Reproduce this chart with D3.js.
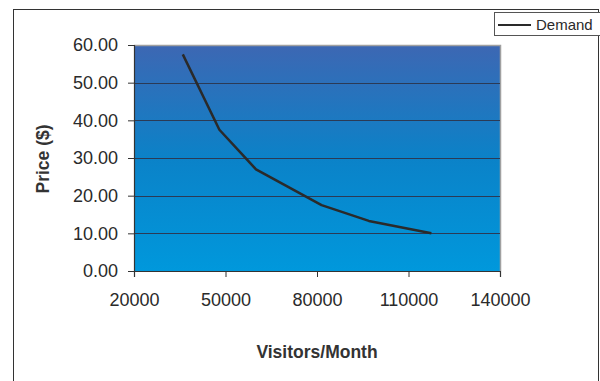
<!DOCTYPE html>
<html>
<head>
<meta charset="utf-8">
<script src="https://cdn.jsdelivr.net/npm/d3@7/dist/d3.min.js"></script>
<style>
  html, body { margin: 0; padding: 0; background: #fff; }
  svg { display: block; font-family: "Liberation Sans", Arial, sans-serif; }
</style>
</head>
<body>
<svg id="chart" width="600" height="381"></svg>
<script>
// Demand curve: price charged vs. visitors per month
const visitors = [36000, 48000, 56000, 60000, 81500, 97000, 117500];
const prices   = [57.5, 37.5, 30.5, 27.0, 17.5, 13.3, 10.0];
const xTicks = [20000, 50000, 80000, 110000, 140000];
const yTicks = [0, 10, 20, 30, 40, 50, 60];
const seriesName = "Demand";

const svg = d3.select("#chart");
const plot = { left: 134, right: 500, top: 45, bottom: 271 };
const FONT = "'Liberation Sans', Arial, sans-serif";

const x = d3.scaleLinear().domain([20000, 140000]).range([plot.left, plot.right]);
const y = d3.scaleLinear().domain([0, 60]).range([plot.bottom, plot.top]);

// outer chart frame
svg.append("rect")
  .attr("x", 13.5).attr("y", 9.5).attr("width", 585).attr("height", 400)
  .attr("fill", "#fff").attr("stroke", "#333").attr("stroke-width", 1);

// plot background gradient
const defs = svg.append("defs");
const grad = defs.append("linearGradient").attr("id", "bg")
  .attr("x1", 0).attr("y1", 0).attr("x2", 0).attr("y2", 1);
grad.append("stop").attr("offset", "0%").attr("stop-color", "#3d67b3");
grad.append("stop").attr("offset", "50%").attr("stop-color", "#0b82c8");
grad.append("stop").attr("offset", "100%").attr("stop-color", "#0098dc");

svg.append("rect")
  .attr("x", plot.left).attr("y", plot.top)
  .attr("width", plot.right - plot.left).attr("height", plot.bottom - plot.top)
  .attr("fill", "url(#bg)");

// plot border on top/right
svg.append("path")
  .attr("d", `M${plot.left},${plot.top + 0.5}H${plot.right + 0.5}V${plot.bottom}`)
  .attr("fill", "none").attr("stroke", "#a0a0a0").attr("stroke-width", 1.5);

// horizontal gridlines
svg.append("g")
  .selectAll("line")
  .data(yTicks.filter(d => d > 0 && d < 60))
  .join("line")
  .attr("x1", plot.left).attr("x2", plot.right)
  .attr("y1", d => Math.round(y(d)) + 0.5).attr("y2", d => Math.round(y(d)) + 0.5)
  .attr("stroke", "#2b3a55").attr("stroke-width", 1);

// axes
const yAxis = d3.axisLeft(y).tickValues(yTicks).tickSize(6).tickPadding(10)
  .tickFormat(d3.format(".2f"));
const gy = svg.append("g").attr("transform", `translate(${plot.left},0)`).call(yAxis);

const xAxis = d3.axisBottom(x).tickValues(xTicks).tickSize(6).tickPadding(16)
  .tickFormat(d3.format("d"));
const gx = svg.append("g").attr("transform", `translate(0,${plot.bottom})`).call(xAxis);

[gy, gx].forEach(g => {
  g.attr("font-size", 18).attr("font-family", FONT);
  g.select(".domain").attr("stroke", "#333").attr("stroke-width", 1.2);
  g.selectAll(".tick line").attr("stroke", "#333");
  g.selectAll(".tick text").attr("fill", "#2a2a2a");
});

// demand line
const line = d3.line().x((d, i) => x(visitors[i])).y(d => y(d));
svg.append("path")
  .datum(prices)
  .attr("d", line)
  .attr("fill", "none")
  .attr("stroke", "#2a2a2a")
  .attr("stroke-width", 2.5)
  .attr("stroke-linejoin", "round");

// axis titles
svg.append("text")
  .attr("x", 317).attr("y", 358)
  .attr("text-anchor", "middle")
  .attr("font-size", 17.5).attr("font-weight", "bold").attr("fill", "#333")
  .text("Visitors/Month");

svg.append("text")
  .attr("transform", `translate(49,${(plot.top + plot.bottom) / 2 + 1}) rotate(-90)`)
  .attr("text-anchor", "middle")
  .attr("font-size", 17.5).attr("font-weight", "bold").attr("fill", "#333")
  .text("Price ($)");

// legend
const lg = svg.append("g");
lg.append("rect")
  .attr("x", 494.5).attr("y", 12.5).attr("width", 110).attr("height", 23)
  .attr("fill", "#fff").attr("stroke", "#555").attr("stroke-width", 1);
lg.append("line")
  .attr("x1", 498).attr("x2", 531).attr("y1", 25).attr("y2", 25)
  .attr("stroke", "#2a2a2a").attr("stroke-width", 2);
lg.append("text")
  .attr("x", 536).attr("y", 30)
  .attr("font-size", 15).attr("fill", "#2a2a2a")
  .text(seriesName);
</script>
</body>
</html>
